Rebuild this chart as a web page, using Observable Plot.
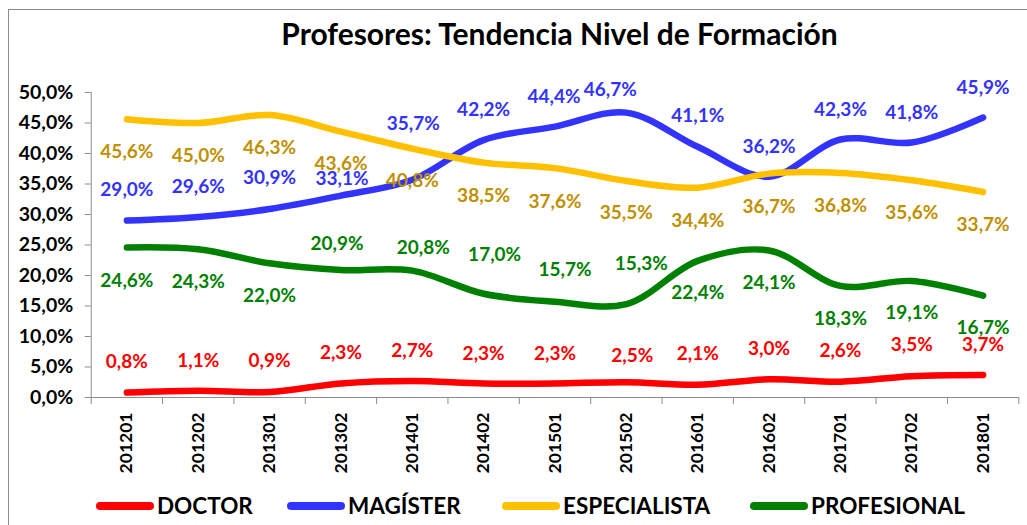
<!DOCTYPE html>
<html><head><meta charset="utf-8">
<script src="https://cdn.jsdelivr.net/npm/d3@7"></script>
<script src="https://cdn.jsdelivr.net/npm/@observablehq/plot@0.6"></script>
<style>
html,body{margin:0;padding:0;background:#fff;}
#wrap{position:relative;width:1027px;height:525px;overflow:hidden;font-family:Lato,"Open Sans",sans-serif;}
#border{position:absolute;left:8px;top:9px;width:1060px;height:560px;border:1px solid #8a8a8a;box-sizing:border-box;}
#chart{position:absolute;left:0;top:0;}
#title{position:absolute;left:0;top:13px;width:1119px;text-align:center;font-weight:bold;font-size:30px;color:#000;line-height:40px;white-space:nowrap;}
.leg{position:absolute;top:494px;height:24px;display:flex;align-items:center;white-space:nowrap;}
.sw{width:58px;height:8px;border-radius:4px;margin-right:3px;}
.lt{font-weight:bold;font-size:22.5px;color:#000;line-height:24px;}
</style></head>
<body><div id="wrap"><div id="border"></div><div id="chart"></div><div id="title"></div></div>
<script>
const periods = ["201201","201202","201301","201302","201401","201402","201501","201502","201601","201602","201701","201702","201801"];
const seriesNames = ["DOCTOR","MAGÍSTER","ESPECIALISTA","PROFESIONAL"];
const doctor       = [0.8,1.1,0.9,2.3,2.7,2.3,2.3,2.5,2.1,3.0,2.6,3.5,3.7];
const magister     = [29.0,29.6,30.9,33.1,35.7,42.2,44.4,46.7,41.1,36.2,42.3,41.8,45.9];
const especialista = [45.6,45.0,46.3,43.6,40.8,38.5,37.6,35.5,34.4,36.7,36.8,35.6,33.7];
const profesional  = [24.6,24.3,22.0,20.9,20.8,17.0,15.7,15.3,22.4,24.1,18.3,19.1,16.7];
const yTicks = [0,5,10,15,20,25,30,35,40,45,50];
const titleText = "Profesores: Tendencia Nivel de Formación";

// styling / layout (not data)
const lineColors  = ["#FF0000","#3333FF","#FFC000","#008000"];
const labelColors = ["#FF0000","#3333FF","#BF9000","#008000"];
const labelDy = [
  [-31,-30,-31,-31,-30,-30,-30,-26,-31,-30,-31,-31,-30],
  [-31,-30,-31,-17,-56,-30,-30,-23,-31,-30,-30,-30,-30],
  [33,33,33,32,32,33,34,32,33,33,33,33,33],
  [33,33,33,-26,-23,-39,-32,-40,32,32,33,32,32]
];
const labelDx = [
  [0,0,0,0,0,0,0,6,0,0,0,0,0],
  [0,0,0,1,1,0,-1,-16,0,0,0,0,0],
  [0,0,0,0,0,0,0,0,0,0,0,0,0],
  [0,0,0,-4,11,11,10,15,0,0,0,0,0]
];
const legendLeft = [96,287,502,750];

const values = [doctor, magister, especialista, profesional];
const rows = [];
values.forEach((arr, s) => arr.forEach((v, i) => rows.push({
  i, period: periods[i], value: v, series: seriesNames[s], s,
  dx: labelDx[s][i], dy: labelDy[s][i]
})));
const fmt = v => v.toFixed(1).replace(".", ",") + "%";
const idx = d3.range(periods.length);
const bounds = d3.range(periods.length + 1).map(k => k - 0.5);

const marks = [
  Plot.ruleY([0], {stroke: "#8c8c8c", strokeWidth: 1}),
  Plot.ruleX([bounds[0]], {stroke: "#8c8c8c", strokeWidth: 1}),
  Plot.axisY({ticks: yTicks, tickSize: 6, tickPadding: 12, tickFormat: fmt, stroke: "#8c8c8c", fill: "#000",
    fontSize: 19.5, fontWeight: "bold", fontFamily: "Lato", label: null}),
  Plot.axisX({ticks: bounds, tickSize: 7, tickFormat: () => "", stroke: "#8c8c8c", label: null}),
  Plot.axisX({ticks: idx, tickSize: 0, tickPadding: 15, tickRotate: -90, tickFormat: i => periods[i], fill: "#000",
    fontSize: 17.5, fontWeight: "bold", fontFamily: "Lato", label: null})
];
seriesNames.forEach((name, s) => {
  marks.push(Plot.line(rows.filter(d => d.s === s), {x: "i", y: "value", stroke: lineColors[s], strokeWidth: 6.5,
    curve: "catmull-rom", strokeLinecap: "round", strokeLinejoin: "round"}));
});
seriesNames.forEach((name, s) => {
  const sub = rows.filter(d => d.s === s);
  sub.forEach(d => {
    marks.push(Plot.text([d], {x: "i", y: "value", text: d => fmt(d.value), dx: d.dx, dy: d.dy,
      fill: labelColors[s], fontSize: 19, fontWeight: "bold", fontFamily: "Lato"}));
  });
});

const chart = Plot.plot({
  width: 1027, height: 525,
  marginLeft: 90.7, marginRight: 8.7, marginTop: 92, marginBottom: 128,
  x: {domain: [bounds[0], bounds[bounds.length - 1]], type: "linear", label: null},
  y: {domain: [0, 50], label: null},
  style: {fontFamily: "Lato", background: "transparent", overflow: "visible"},
  marks
});
document.getElementById("chart").appendChild(chart);
document.getElementById("title").textContent = titleText;

const wrap = document.getElementById("wrap");
seriesNames.forEach((name, s) => {
  const item = document.createElement("div");
  item.className = "leg";
  item.style.left = legendLeft[s] + "px";
  const sw = document.createElement("div");
  sw.className = "sw"; sw.style.background = lineColors[s];
  const t = document.createElement("span");
  t.className = "lt"; t.textContent = name;
  item.appendChild(sw); item.appendChild(t);
  wrap.appendChild(item);
});
</script></body></html>
